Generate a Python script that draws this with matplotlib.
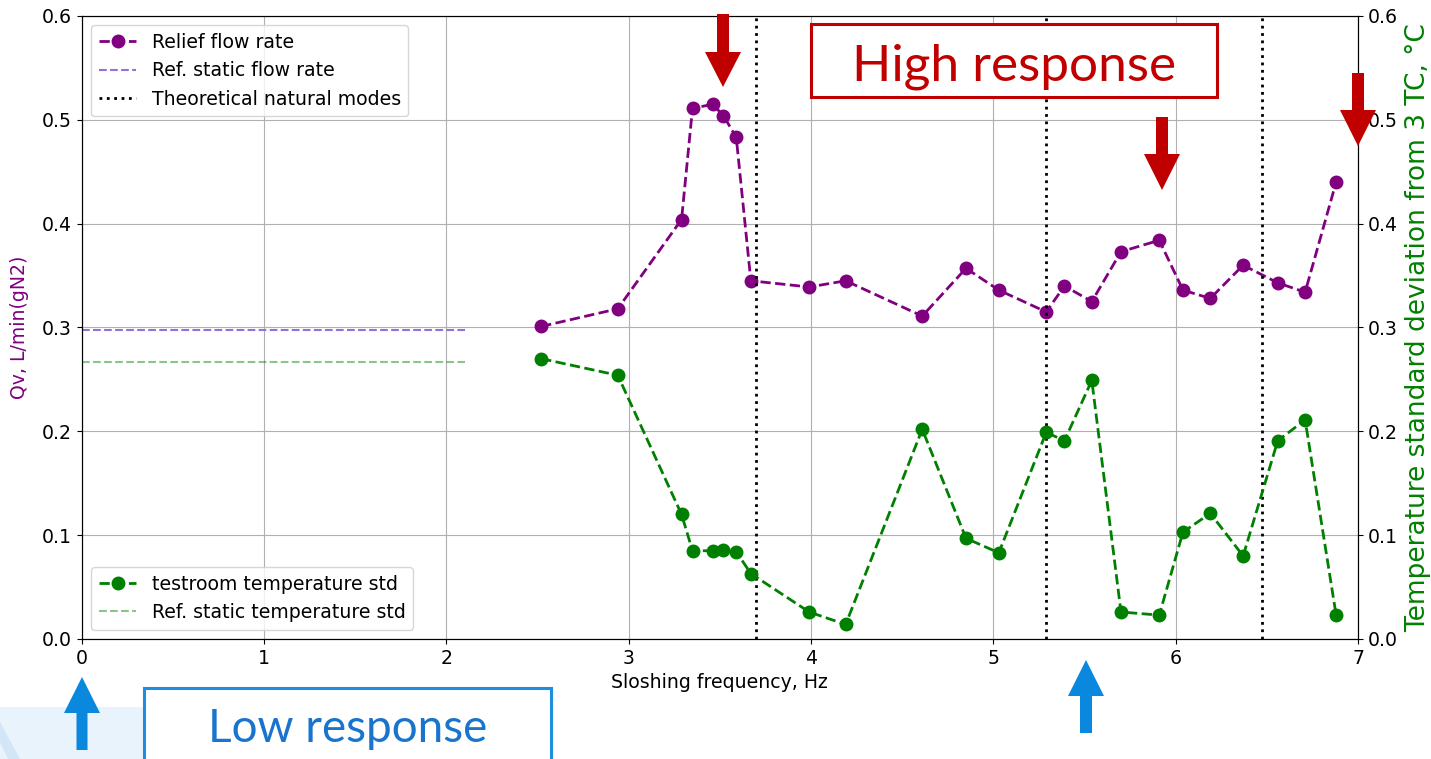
import matplotlib.pyplot as plt
from matplotlib.patches import Rectangle, Polygon

# sloshing test results
freq = [2.52, 2.94, 3.29, 3.35, 3.46, 3.52, 3.59, 3.67, 3.99, 4.19, 4.61, 4.85,
        5.03, 5.29, 5.39, 5.54, 5.70, 5.91, 6.04, 6.19, 6.37, 6.56, 6.71, 6.88]
flow = [0.301, 0.318, 0.404, 0.511, 0.515, 0.504, 0.483, 0.345, 0.339, 0.345, 0.311, 0.357,
        0.336, 0.315, 0.340, 0.325, 0.373, 0.384, 0.336, 0.328, 0.360, 0.343, 0.334, 0.440]
temp_std = [0.270, 0.254, 0.120, 0.085, 0.085, 0.086, 0.084, 0.063, 0.026, 0.014, 0.202, 0.097,
            0.083, 0.199, 0.191, 0.249, 0.026, 0.023, 0.103, 0.121, 0.080, 0.191, 0.211, 0.023]
modes = [3.70, 5.29, 6.475]
ref_flow = 0.298
ref_temp = 0.267
ref_span = [0, 2.1]

W, H = 1431, 759
plt.rcParams['font.size'] = 13.6

fig = plt.figure(figsize=(W / 100, H / 100), dpi=100)
fig.subplots_adjust(left=81.7 / W, right=1358 / W, bottom=1 - 639 / H, top=1 - 16 / H)
ax = fig.add_subplot(111)
ax2 = ax.twinx()

ax.plot(freq, flow, 'o--', color='purple', lw=2, ms=9, label='Relief flow rate')
ax.hlines(ref_flow, ref_span[0], ref_span[1], colors='mediumpurple', linestyles='--', lw=1.5,
          label='Ref. static flow rate')
for i, m in enumerate(modes):
    ax.axvline(m, color='black', ls=':', lw=2, label='Theoretical natural modes' if i == 0 else None)

ax2.plot(freq, temp_std, 'o--', color='green', lw=2, ms=9, label='testroom temperature std')
ax2.hlines(ref_temp, ref_span[0], ref_span[1], colors='green', alpha=0.45, linestyles='--', lw=1.5,
           label='Ref. static temperature std')

ax.set_xlim(0, 7)
ax.set_ylim(0, 0.6)
ax2.set_ylim(0, 0.6)
ax.grid(True)
ax.set_xlabel('Sloshing frequency, Hz')
ax.set_ylabel('Qv, L/min(gN2)', color='purple', labelpad=9)
ax2.set_ylabel('Temperature standard deviation from 3 TC, °C', color='green', fontsize=19, labelpad=5)
ax.legend(loc='upper left')
ax2.legend(loc='lower left')


def P(x, y):
    return (x / W, 1 - y / H)


def arrow(cx, start, base, tip, sw, hw, color):
    pts = [P(cx - sw, start), P(cx - sw, base), P(cx - hw, base), P(cx, tip),
           P(cx + hw, base), P(cx + sw, base), P(cx + sw, start)]
    fig.add_artist(Polygon(pts, closed=True, transform=fig.transFigure,
                           facecolor=color, edgecolor='none', zorder=10))


red = '#C00000'
blue = '#0A88DE'

# pale slide background in the bottom-left corner
fig.add_artist(Polygon([P(0, 707), P(144, 707), P(144, 759), P(0, 759)], closed=True,
                       transform=fig.transFigure, facecolor='#e9f3fc', edgecolor='none', zorder=0))
fig.add_artist(Polygon([P(0, 722), P(20, 759), P(8, 759), P(0, 742)], closed=True,
                       transform=fig.transFigure, facecolor='#d2e6f7', edgecolor='none', zorder=0))

arrow(723, 14, 52, 87, 6, 18, red)
arrow(1162, 117, 154, 190, 6, 18, red)
arrow(1358, 73, 110, 146, 6, 18, red)
arrow(82, 750, 713, 677, 5.5, 18, blue)
arrow(1086, 733, 696, 660, 6, 18, blue)

x0, y0 = P(811, 97)
x1, y1 = P(1217, 24)
fig.add_artist(Rectangle((x0, y0), x1 - x0, y1 - y0, transform=fig.transFigure,
                         facecolor='white', edgecolor=red, lw=2.2, zorder=11))
fig.text(*P(1014, 80), 'High response', color=red, fontsize=37, family='Lato',
         ha='center', va='baseline', zorder=12)

x0, y0 = P(144, 775)
x1, y1 = P(551, 688)
fig.add_artist(Rectangle((x0, y0), x1 - x0, y1 - y0, transform=fig.transFigure,
                         facecolor='white', edgecolor='#1E8FE0', lw=2.2, zorder=11))
fig.text(*P(348, 742), 'Low response', color='#1874CD', fontsize=33, family='Lato',
         ha='center', va='baseline', zorder=12)

fig.savefig('out.png', dpi=100)
